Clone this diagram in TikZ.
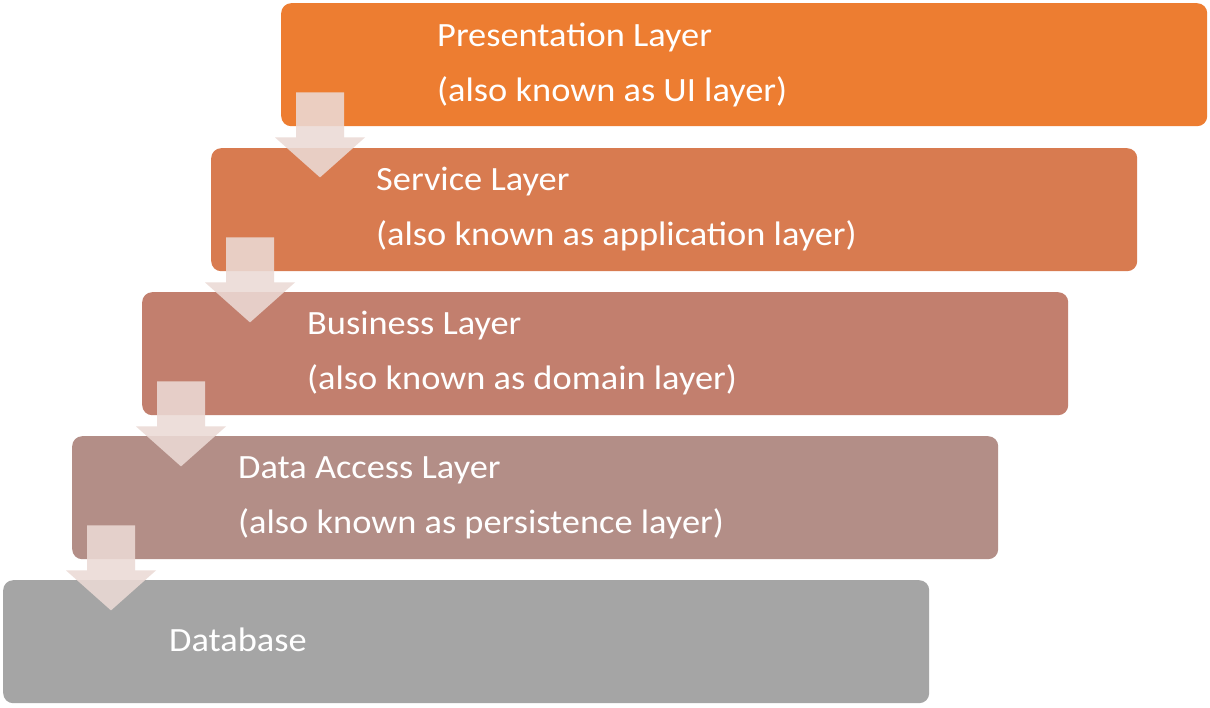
\documentclass[tikz,border=0pt]{standalone}
\usepackage{fontspec}
\usepackage{graphicx}
\setmainfont{Carlito}
\usetikzlibrary{calc}
\definecolor{cA}{HTML}{ED7D31}
\definecolor{cB}{HTML}{D87B50}
\definecolor{cC}{HTML}{C27F6E}
\definecolor{cD}{HTML}{B38E87}
\definecolor{cE}{HTML}{A5A5A5}
\definecolor{arrowcol}{HTML}{EBDAD5}
\newcommand\wtxt[1]{\scalebox{1.07}[1]{#1}}
\tikzset{
  layerbox/.style={rectangle, rounded corners=10pt, inner sep=0pt, minimum width=926pt, minimum height=123pt, anchor=north west, draw=none},
  lbl/.style={text=white, font=\fontsize{34}{34}\selectfont, inner sep=0pt, anchor=base west},
  arrowfill/.style={fill=arrowcol, fill opacity=0.88}
}
\newcommand\layerarrow[1]{%
  \fill[arrowfill] ($(#1.south west)+(15,-34)$) -- ++(48,0) -- ++(0,45) -- ++(21,0)
    -- ($(#1.south west)+(39,51)$) -- ++(-45,-40) -- ++(21,0) -- cycle;}
\begin{document}
\begin{tikzpicture}[x=1pt,y=-1pt]
\useasboundingbox (0,0) rectangle (1210,707);
\fill[white] (0,0) rectangle (1210,707);
\node[layerbox, fill=cA] (b1) at (281,3) {};
\node[layerbox, fill=cB] (b2) at (211,148) {};
\node[layerbox, fill=cC] (b3) at (142,292) {};
\node[layerbox, fill=cD] (b4) at (72,436) {};
\node[layerbox, fill=cE] (b5) at (3,580) {};
\node[lbl] (t1a) at (437,46) {\wtxt{Presentation Layer}};
\node[lbl] (t1b) at (437,101) {\wtxt{(also known as UI layer)}};
\node[lbl] (t2a) at (376,190) {\wtxt{Service Layer}};
\node[lbl] (t2b) at (376,245) {\wtxt{(also known as application layer)}};
\node[lbl] (t3a) at (307,334) {\wtxt{Business Layer}};
\node[lbl] (t3b) at (307,389) {\wtxt{(also known as domain layer)}};
\node[lbl] (t4a) at (238,478) {\wtxt{Data Access Layer}};
\node[lbl] (t4b) at (238,533) {\wtxt{(also known as persistence layer)}};
\node[lbl] (t5a) at (169,651) {\wtxt{Database}};
\layerarrow{b1}
\layerarrow{b2}
\layerarrow{b3}
\layerarrow{b4}
\end{tikzpicture}
\end{document}
